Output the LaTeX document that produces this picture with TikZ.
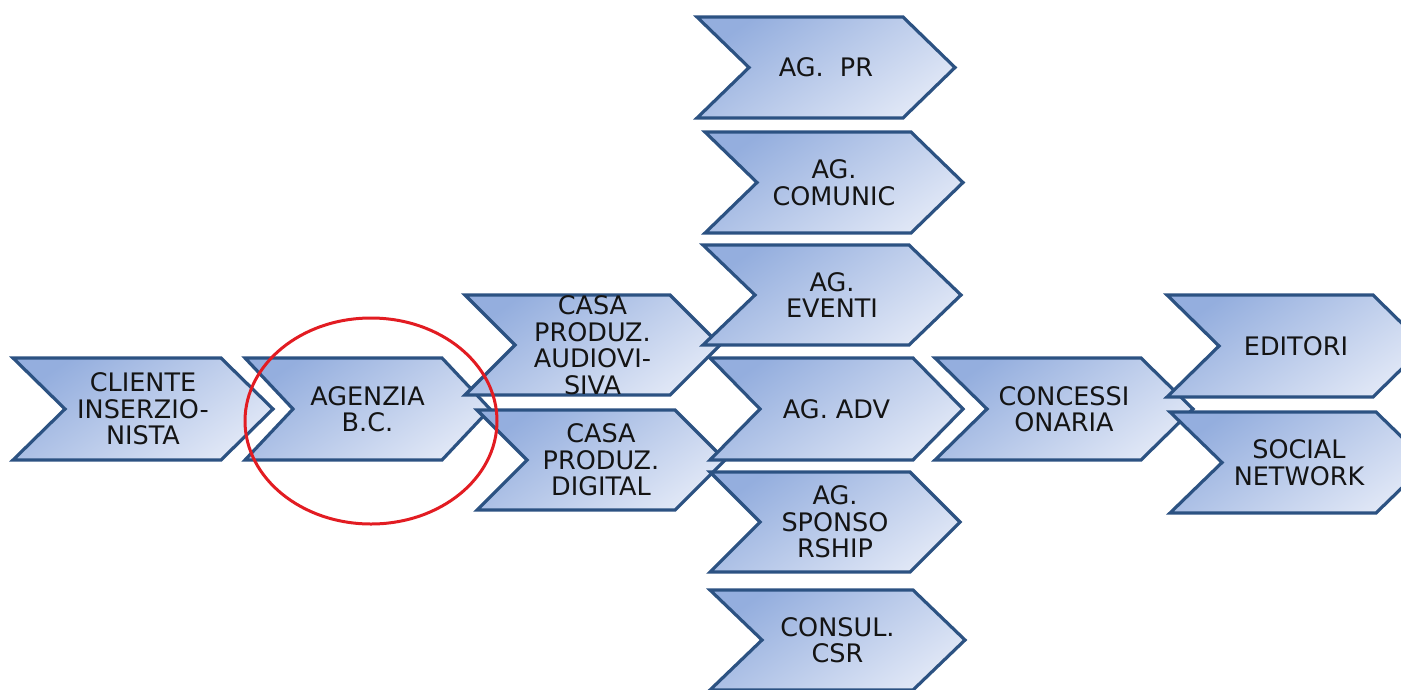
\documentclass[tikz,border=0pt]{standalone}
\usepackage{fontspec}
\setmainfont{DejaVu Sans}
\definecolor{chevtop}{RGB}{148,174,222}
\definecolor{chevbot}{RGB}{224,231,246}
\definecolor{chevline}{RGB}{44,82,130}
\definecolor{labeltext}{RGB}{20,20,20}
\definecolor{ringred}{RGB}{226,28,34}
\tikzset{
  chev/.style={draw=chevline, line width=3.2pt, top color=chevtop, bottom color=chevbot, shading angle=35},
  lbl/.style={align=center, text=labeltext, font=\fontsize{25.5}{26.5}\selectfont, inner sep=0pt},
  ring/.style={draw=ringred, line width=3pt}
}
% chevron: name, left x, top y, width, height, point depth, label
\newcommand\chevron[7]{%
  \path[chev] (#2,#3) -- ++(#4-#6,0) -- ++(#6,#5/2) -- ++(-#6,#5/2)
    -- ++(-#4+#6,0) -- ++(#6,-#5/2) -- cycle;
  \node[lbl] (#1) at (#2+#4/2,#3+#5/2) {#7};
}
\begin{document}
\begin{tikzpicture}[x=1pt,y=-1pt]
\useasboundingbox (0,0) rectangle (1401,689);
\chevron{cliente}{13}{358}{260}{102}{52}{CLIENTE\\INSERZIO-\\NISTA}
\chevron{agenzia}{245}{358}{245}{102}{48}{AGENZIA\\B.C.}
\chevron{audio}{465}{295}{255}{100}{50}{\fontsize{25.5}{29}\selectfont CASA\\PRODUZ.\\AUDIOVI-\\SIVA}
\chevron{digital}{477}{410}{248}{100}{50}{CASA\\PRODUZ.\\DIGITAL}
\chevron{pr}{697}{17}{258}{101}{52}{AG.~~PR}
\chevron{comunic}{705}{132}{258}{101}{52}{AG.\\COMUNIC}
\chevron{eventi}{703}{245}{258}{100}{52}{AG.\\EVENTI}
\chevron{adv}{710}{358}{253}{102}{50}{AG. ADV}
\chevron{sponsor}{710}{472}{250}{100}{50}{AG.\\SPONSO\\RSHIP}
\chevron{csr}{710}{590}{255}{100}{52}{CONSUL.\\CSR}
\chevron{concess}{935}{358}{258}{102}{52}{CONCESSI\\ONARIA}
\chevron{editori}{1167}{295}{258}{102}{52}{EDITORI}
\chevron{social}{1170}{412}{258}{101}{52}{SOCIAL\\NETWORK}
\draw[ring] (371,421) ellipse [x radius=126pt, y radius=103pt];
\end{tikzpicture}
\end{document}
